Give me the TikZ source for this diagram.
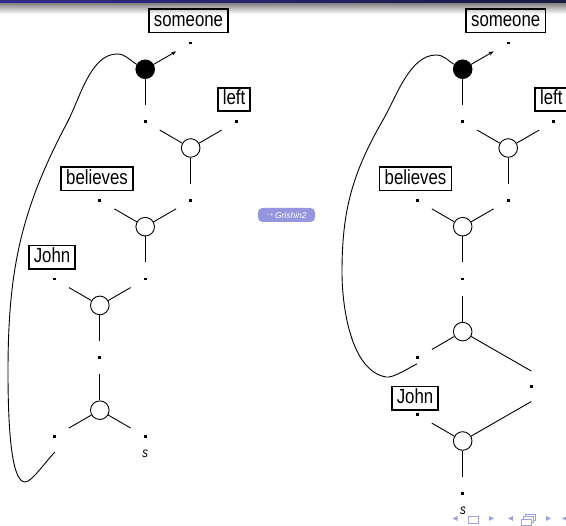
\documentclass[tikz,border=0pt]{standalone}
\usepackage{fontspec}
\newfontfamily\lblfont[FakeStretch=0.82]{Liberation Sans}
\newfontfamily\btnfont{Liberation Sans}
\usetikzlibrary{arrows.meta,calc}
\definecolor{barL}{RGB}{48,44,140}
\definecolor{barR}{RGB}{26,26,66}
\definecolor{navc}{RGB}{160,160,222}
\definecolor{btnc}{RGB}{150,150,222}

\begin{document}
\begin{tikzpicture}[x=1pt,y=-1pt,
  lbl/.style={draw, line width=1.5pt, font=\lblfont\fontsize{20.5}{24}\selectfont,
    inner xsep=5pt, inner ysep=2pt, text height=15pt, text depth=4.2pt},
  jn/.style={circle, draw, line width=0.9pt, minimum size=18.6pt, inner sep=0pt, fill=white},
  jnf/.style={jn, fill=black},
  dotpt/.style={rectangle, fill=black, minimum size=2.8pt, inner sep=0pt},
  arm/.style={line width=0.9pt, shorten >=15pt},
  link/.style={line width=0.9pt},
  slbl/.style={font=\lblfont\itshape\fontsize{14}{16}\selectfont, inner sep=0pt},
  navsym/.style={fill=navc, draw=none}
]
\useasboundingbox (0,0) rectangle (566,526);
\fill[white] (0,0) rectangle (566,526);

% frame title bar and its shadow
\shade[left color=barL, right color=barR] (0,0) rectangle (566,4);
\shade[top color=black!45, bottom color=white] (0,4) rectangle (566,14);

% ---------- first derivation ----------
\node[jnf] (a1) at (145.2,69.25) {};
\node[jn]  (a2) at (190.7,148) {};
\node[jn]  (a3) at (145.2,226.7) {};
\node[jn]  (a4) at (99.8,305.4) {};
\node[jn]  (a5) at (99.8,410.2) {};

\node[dotpt] (aS)  at (190.7,43) {};
\node[dotpt] (a12) at (145.2,121.7) {};
\node[dotpt] (aL)  at (236.2,121.7) {};
\node[dotpt] (aB)  at (99.8,200.4) {};
\node[dotpt] (a23) at (190.7,200.4) {};
\node[dotpt] (aJ)  at (54.3,279.1) {};
\node[dotpt] (a34) at (145.2,279.1) {};
\node[dotpt] (a45) at (99.8,357.8) {};
\node[dotpt] (aX)  at (54.3,436.5) {};
\node[dotpt] (aR)  at (145.2,436.5) {};

\node[lbl] (tSomeA) at (188.5,20.8) {someone};
\node[lbl] (tLeftA) at (234,99.5) {left};
\node[lbl] (tBelA)  at (97,178.7) {believes};
\node[lbl] (tJohnA) at (52,257.2) {John};
\node[slbl] (tsA) at (145.3,453.7) {s};

\draw[arm, -{Stealth[length=5pt,width=4pt]}] (a1) -- (aS);
\draw[arm] (a1) -- (a12);
\draw[arm] (a2) -- (a12);
\draw[arm] (a2) -- (aL);
\draw[arm] (a2) -- (a23);
\draw[arm] (a3) -- (aB);
\draw[arm] (a3) -- (a23);
\draw[arm] (a3) -- (a34);
\draw[arm] (a4) -- (aJ);
\draw[arm] (a4) -- (a34);
\draw[arm] (a4) -- (a45);
\draw[arm] (a5) -- (a45);
\draw[arm] (a5) -- (aX);
\draw[arm] (a5) -- (aR);

\coordinate (aEnd) at (55,452);
\draw[link] (a1.150) to[out=150,in=0] (117,54)
  to[out=180,in=62,looseness=0.8] (67,123)
  to[out=242,in=90] (8,372)
  .. controls (8,440) and (13,482) .. (25,482)
  .. controls (32,482) and (45,462) .. (aEnd);

% ---------- second derivation ----------
\node[jnf] (b1) at (462.7,69.25) {};
\node[jn]  (b2) at (508.2,148) {};
\node[jn]  (b3) at (462.7,226.7) {};
\node[jn]  (b4) at (462.7,331.6) {};
\node[jn]  (b5) at (462.7,441) {};

\node[dotpt] (bS)  at (508.2,43) {};
\node[dotpt] (b12) at (462.7,121.7) {};
\node[dotpt] (bL)  at (553.7,121.7) {};
\node[dotpt] (bB)  at (417.3,200.4) {};
\node[dotpt] (b23) at (508.2,200.4) {};
\node[dotpt] (b34) at (462.7,279.1) {};
\node[dotpt] (b4L) at (417.3,357.9) {};
\node[dotpt] (bM)  at (531.2,386.3) {};
\node[dotpt] (bJ)  at (417.3,414.75) {};
\node[dotpt] (bR)  at (462.7,493.5) {};

\node[lbl] (tSomeB) at (505.7,20.8) {someone};
\node[lbl] (tLeftB) at (551.3,99.5) {left};
\node[lbl] (tBelB)  at (415.5,178.7) {believes};
\node[lbl] (tJohnB) at (415,398.2) {John};
\node[slbl] (tsB) at (463,510.7) {s};

\draw[arm, -{Stealth[length=5pt,width=4pt]}] (b1) -- (bS);
\draw[arm] (b1) -- (b12);
\draw[arm] (b2) -- (b12);
\draw[arm] (b2) -- (bL);
\draw[arm] (b2) -- (b23);
\draw[arm] (b3) -- (bB);
\draw[arm] (b3) -- (b23);
\draw[arm] (b3) -- (b34);
\draw[arm] (b4) -- (b34);
\draw[arm] (b4) -- (b4L);
\draw[arm] (b5) -- (bJ);
\draw[arm] (b5) -- (bR);
\coordinate (bMu) at (531.2,371);
\coordinate (bMd) at (531.2,401.6);
\draw[link] (b4.-30) -- (bMu);
\draw[link] (b5.30) -- (bMd);

\coordinate (bEnd) at (417,364);
\draw[link] (b1.150) to[out=150,in=0] (436,55)
  to[out=180,in=60,looseness=0.8] (383,120)
  to[out=240,in=90] (342,272)
  to[out=270,in=170,looseness=0.8] (386,377)
  to[out=-10,in=203,looseness=0.6] (bEnd);

% ---------- goto button ----------
\node[fill=btnc, rounded corners=4.5pt, minimum width=57pt, minimum height=14pt, inner sep=0pt,
  text=white, font=\btnfont\fontsize{8.5}{9}\selectfont] (btn) at (286.5,215)
  {\raisebox{1.5pt}{$\scriptstyle\rightarrow$}\,\itshape Grishin2};

% ---------- navigation symbols ----------
\fill[navsym] (457.5,516) -- (452.5,518.5) -- (457.5,521) -- cycle;
\draw[navc, line width=0.9pt] (468,516) rectangle (478,523);
\fill[navsym] (489,516) -- (494,518.5) -- (489,521) -- cycle;
\fill[navsym] (513,516) -- (508,518.5) -- (513,521) -- cycle;
\draw[navc, line width=0.9pt, fill=white] (525,514) rectangle (535,520);
\draw[navc, line width=0.9pt, fill=white] (523,516.5) rectangle (533,522.5);
\draw[navc, line width=0.9pt, fill=white] (521,519) rectangle (531,525);
\fill[navsym] (546,516) -- (551,518.5) -- (546,521) -- cycle;
\fill[navsym] (567,516) -- (562,518.5) -- (567,521) -- cycle;
\end{tikzpicture}
\end{document}
